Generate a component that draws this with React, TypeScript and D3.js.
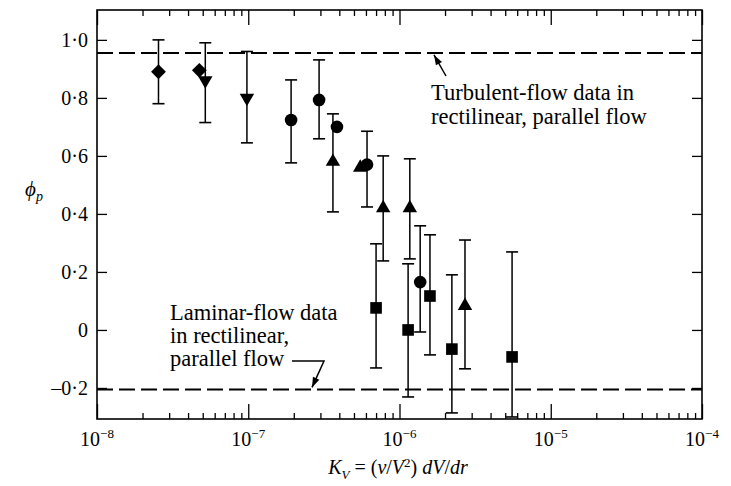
import { useEffect, useRef } from "react";
import * as d3 from "d3";

// readings per marker type: K_V, phi_p and the error bar ends (null = no bar)
const diamondKv = [2.55e-8, 4.75e-8];
const diamondPhi = [0.89, 0.895];
const diamondLo = [0.78, null];
const diamondHi = [1.0, null];

const triDownKv = [5.2e-8, 9.8e-8];
const triDownPhi = [0.86, 0.8];
const triDownLo = [0.715, 0.645];
const triDownHi = [0.99, 0.96];

const circleKv = [1.92e-7, 2.94e-7, 3.86e-7, 6.1e-7, 1.37e-6];
const circlePhi = [0.724, 0.793, 0.7, 0.57, 0.165];
const circleLo = [0.576, 0.659, null, 0.424, -0.007];
const circleHi = [0.862, 0.931, null, 0.685, 0.359];

const triUpKv = [3.63e-7, 5.5e-7, 7.8e-7, 1.17e-6, 2.71e-6];
const triUpPhi = [0.58, 0.56, 0.42, 0.42, 0.083];
const triUpLo = [0.407, null, 0.238, 0.245, -0.134];
const triUpHi = [0.745, null, 0.6, 0.59, 0.31];

const squareKv = [7.0e-7, 1.14e-6, 1.59e-6, 2.22e-6, 5.55e-6];
const squarePhi = [0.076, 0.0, 0.117, -0.066, -0.093];
const squareLo = [-0.131, -0.231, -0.086, -0.286, -0.3];
const squareHi = [0.297, 0.228, 0.328, 0.19, 0.269];

const yTicks = [-0.2, 0, 0.2, 0.4, 0.6, 0.8, 1.0];
const yTickLabels = ["\u20130\u00b72", "0", "0\u00b72", "0\u00b74", "0\u00b76", "0\u00b78", "1\u00b70"];
const xDecades = [-8, -7, -6, -5, -4];

const turbulentLevel = 0.955;
const laminarLevel = -0.205;
const turbulentNote = ["Turbulent-flow data in", "rectilinear, parallel flow"];
const laminarNote = ["Laminar-flow data", "in rectilinear,", "parallel flow"];

const serif = "'Liberation Serif', 'Times New Roman', serif";

function App() {
  const ref = useRef<SVGSVGElement>(null);

  const width = 731;
  const height = 486;
  const left = 97, right = 702, top = 10, bottom = 419;

  useEffect(() => {
    const svg = d3.select(ref.current);
    svg.selectAll("*").remove();

    const x = d3.scaleLog().domain([1e-8, 1e-4]).range([left, right]);
    const y = d3.scaleLinear().domain([-0.307, 1.103]).range([bottom, top]);

    const allTicks = x.ticks();
    const isDecade = (t: number) => Math.abs(Math.log10(t) - Math.round(Math.log10(t))) < 1e-6;
    const minor = allTicks.filter(t => !isDecade(t));
    const major = allTicks.filter(t => isDecade(t));

    // frame
    svg.append("rect")
      .attr("x", left).attr("y", top)
      .attr("width", right - left).attr("height", bottom - top)
      .attr("fill", "none").attr("stroke", "#000").attr("stroke-width", 1.6);

    // inward ticks on all four sides
    const tickAxis = (g: any, axis: any) => {
      g.call(axis.tickFormat(() => ""));
      g.select(".domain").remove();
      g.selectAll("line").attr("stroke", "#000").attr("stroke-width", 1.3);
    };
    svg.append("g").attr("transform", `translate(0,${bottom})`)
      .call(g => tickAxis(g, d3.axisBottom(x).tickValues(minor).tickSize(-6)));
    svg.append("g").attr("transform", `translate(0,${bottom})`)
      .call(g => tickAxis(g, d3.axisBottom(x).tickValues(major).tickSize(-15)));
    svg.append("g").attr("transform", `translate(0,${top})`)
      .call(g => tickAxis(g, d3.axisTop(x).tickValues(minor).tickSize(-6)));
    svg.append("g").attr("transform", `translate(0,${top})`)
      .call(g => tickAxis(g, d3.axisTop(x).tickValues(major).tickSize(-15)));
    svg.append("g").attr("transform", `translate(${left},0)`)
      .call(g => tickAxis(g, d3.axisLeft(y).tickValues(yTicks).tickSize(-10)));
    svg.append("g").attr("transform", `translate(${right},0)`)
      .call(g => tickAxis(g, d3.axisRight(y).tickValues(yTicks).tickSize(-10)));

    // y tick labels
    svg.append("g").selectAll("text")
      .data(yTicks)
      .enter().append("text")
      .attr("x", left - 9)
      .attr("y", d => y(d))
      .attr("dy", "0.36em")
      .attr("text-anchor", "end")
      .style("font-family", serif).style("font-size", "20px")
      .text((d, i) => yTickLabels[i]);

    // x tick labels 10^n
    const xl = svg.append("g").selectAll("text")
      .data(xDecades)
      .enter().append("text")
      .attr("x", d => x(Math.pow(10, d)))
      .attr("y", 446)
      .attr("text-anchor", "middle")
      .style("font-family", serif).style("font-size", "20px");
    xl.append("tspan").text("10");
    xl.append("tspan").attr("dy", -8).style("font-size", "13px").text(d => "\u2212" + Math.abs(d));

    // reference dashed lines
    [turbulentLevel, laminarLevel].forEach(v => {
      svg.append("line")
        .attr("x1", left).attr("x2", right)
        .attr("y1", y(v)).attr("y2", y(v))
        .attr("stroke", "#000").attr("stroke-width", 2)
        .attr("stroke-dasharray", "16 6");
    });

    // series
    const series = [
      { kv: diamondKv, phi: diamondPhi, lo: diamondLo, hi: diamondHi, shape: "diamond" },
      { kv: triDownKv, phi: triDownPhi, lo: triDownLo, hi: triDownHi, shape: "down" },
      { kv: circleKv, phi: circlePhi, lo: circleLo, hi: circleHi, shape: "circle" },
      { kv: triUpKv, phi: triUpPhi, lo: triUpLo, hi: triUpHi, shape: "up" },
      { kv: squareKv, phi: squarePhi, lo: squareLo, hi: squareHi, shape: "square" },
    ];

    const symbolPath = (shape: string) => {
      if (shape === "circle") return d3.symbol(d3.symbolCircle, 125)();
      if (shape === "square") return d3.symbol(d3.symbolSquare, 135)();
      if (shape === "diamond") return d3.symbol(d3.symbolSquare, 110)();
      return d3.symbol(d3.symbolTriangle, 90)();
    };
    const rotation = (shape: string) => shape === "diamond" ? 45 : shape === "down" ? 180 : 0;

    series.forEach(s => {
      const pts = s.kv.map((k, i) => ({ k, phi: s.phi[i], lo: s.lo[i], hi: s.hi[i] }));
      const g = svg.append("g");
      const bars = pts.filter(p => p.lo !== null);
      g.selectAll(".bar").data(bars).enter().append("line")
        .attr("x1", d => x(d.k)).attr("x2", d => x(d.k))
        .attr("y1", d => y(d.lo as number)).attr("y2", d => y(d.hi as number))
        .attr("stroke", "#000").attr("stroke-width", 1.5);
      ["lo", "hi"].forEach(key => {
        g.selectAll(".cap-" + key).data(bars).enter().append("line")
          .attr("x1", d => x(d.k) - 6).attr("x2", d => x(d.k) + 6)
          .attr("y1", d => y((d as any)[key])).attr("y2", d => y((d as any)[key]))
          .attr("stroke", "#000").attr("stroke-width", 1.6);
      });
      g.selectAll(".pt").data(pts).enter().append("path")
        .attr("d", symbolPath(s.shape))
        .attr("transform", d => `translate(${x(d.k)},${y(d.phi)}) rotate(${rotation(s.shape)})`)
        .attr("fill", "#000");
    });

    // annotations
    const note = (lines: string[], x0: number, y0: number, lh: number) => {
      svg.append("g").selectAll("text").data(lines).enter().append("text")
        .attr("x", x0).attr("y", (d, i) => y0 + i * lh)
        .style("font-family", serif).style("font-size", "22.5px")
        .text(d => d);
    };
    note(turbulentNote, 431, 100, 24);
    note(laminarNote, 170, 320, 23);

    const arrowHead = (tipX: number, tipY: number, fromX: number, fromY: number) => {
      const a = Math.atan2(tipY - fromY, tipX - fromX);
      const len = 10, half = 3.5;
      const bx = tipX - len * Math.cos(a), by = tipY - len * Math.sin(a);
      const px = -Math.sin(a) * half, py = Math.cos(a) * half;
      svg.append("path")
        .attr("d", `M${tipX},${tipY}L${bx + px},${by + py}L${bx - px},${by - py}Z`)
        .attr("fill", "#000");
    };

    // laminar leader
    const lamY = y(laminarLevel);
    svg.append("path")
      .attr("d", `M292,361 L324,361 L312,${lamY - 2}`)
      .attr("fill", "none").attr("stroke", "#000").attr("stroke-width", 1.5);
    arrowHead(312, lamY - 2, 324, 361);

    // turbulent leader
    const turbY = y(turbulentLevel);
    svg.append("line")
      .attr("x1", 446).attr("y1", 76).attr("x2", 434).attr("y2", turbY + 2)
      .attr("stroke", "#000").attr("stroke-width", 1.5);
    arrowHead(434, turbY + 2, 446, 76);

    // axis titles
    const yt = svg.append("text")
      .attr("x", 25).attr("y", 196)
      .style("font-family", serif).style("font-size", "21px").style("font-style", "italic");
    yt.append("tspan").text("\u03d5");
    yt.append("tspan").attr("dy", 5).style("font-size", "14px").text("p");

    const xt = svg.append("text")
      .attr("x", 398).attr("y", 474)
      .attr("text-anchor", "middle")
      .style("font-family", serif).style("font-size", "20px");
    xt.append("tspan").style("font-style", "italic").text("K");
    xt.append("tspan").attr("dy", 5).style("font-size", "13px").style("font-style", "italic").text("V");
    xt.append("tspan").attr("dy", -5).text(" = (");
    xt.append("tspan").style("font-style", "italic").text("\u03bd");
    xt.append("tspan").text("/");
    xt.append("tspan").style("font-style", "italic").text("V");
    xt.append("tspan").attr("dy", -7).style("font-size", "13px").text("2");
    xt.append("tspan").attr("dy", 7).text(") ");
    xt.append("tspan").style("font-style", "italic").text("dV");
    xt.append("tspan").text("/");
    xt.append("tspan").style("font-style", "italic").text("dr");
  }, []);

  return (
    <div id="container" style={{ position: "absolute", left: 0, top: 0 }}>
      <svg ref={ref} width={width} height={height} style={{ display: "block", background: "#fff" }}></svg>
    </div>
  );
}

export default App;
